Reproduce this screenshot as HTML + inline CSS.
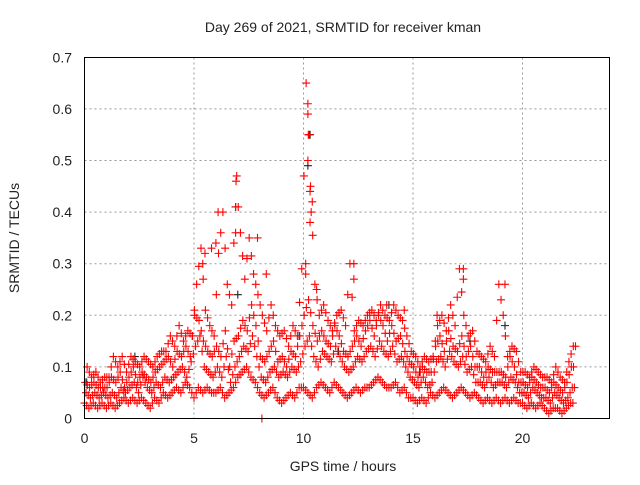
<!DOCTYPE html>
<html><head><meta charset="utf-8"><style>
body{margin:0;background:#fff}
svg text{font-family:"Liberation Sans",sans-serif;fill:#222}
</style></head><body>
<svg id="c" width="640" height="480" xmlns="http://www.w3.org/2000/svg">
<text x="343" y="32" font-size="14" text-anchor="middle">Day 269 of 2021, SRMTID for receiver kman</text>
<text x="343" y="471" font-size="14" text-anchor="middle">GPS time / hours</text>
<text transform="translate(19,238) rotate(-90)" font-size="14" text-anchor="middle">SRMTID / TECUs</text>
<g id="grid"></g><g id="pts"></g>
<rect x="84.5" y="57.5" width="525" height="361" fill="none" stroke="#000" stroke-width="1"/>
<g id="ticks"></g>
</svg>
<script>
const xTicks=[0,5,10,15,20];
const yTicks=[0,0.1,0.2,0.3,0.4,0.5,0.6,0.7];
const yTickLabels=["0","0.1","0.2","0.3","0.4","0.5","0.6","0.7"];
const step=0.2;
const lowVals=[.03,.02,.03,.02,.03,.02,.03,.02,.03,.04,.03,.04,.03,.04,.03,.02,.04,.03,.05,.04,.05,.06,.05,.07,.06,.04,.06,.05,.06,.05,.05,.06,.04,.05,.06,.08,.09,.10,.08,.07,.05,.04,.05,.06,.04,.03,.04,.05,.04,.06,.06,.05,.04,.06,.07,.06,.05,.07,.06,.05,.04,.05,.06,.05,.06,.06,.07,.08,.07,.06,.06,.07,.05,.06,.04,.04,.03,.04,.03,.05,.04,.05,.06,.05,.04,.05,.06,.05,.04,.05,.04,.03,.04,.03,.04,.03,.04,.03,.04,.03,.03,.02,.03,.02,.03,.02,.01,.02,.02,.01,.02,.03];
const mid1Vals=[.05,.04,.05,.04,.05,.04,.05,.04,.06,.05,.06,.07,.05,.08,.06,.05,.07,.06,.08,.07,.08,.09,.10,.08,.11,.14,.16,.10,.09,.08,.10,.08,.12,.07,.10,.12,.14,.13,.16,.12,.08,.07,.09,.10,.08,.09,.08,.10,.09,.11,.14,.16,.12,.10,.13,.12,.11,.14,.12,.10,.09,.10,.12,.11,.13,.14,.12,.15,.13,.12,.14,.11,.12,.10,.08,.07,.06,.08,.06,.07,.11,.12,.10,.13,.11,.10,.12,.09,.10,.07,.07,.06,.08,.06,.07,.07,.06,.08,.07,.05,.05,.04,.06,.05,.04,.04,.03,.05,.04,.03,.04,.06];
const mid2Vals=[.07,.06,.07,.06,.06,.06,.08,.07,.09,.06,.08,.10,.07,.09,.08,.07,.09,.10,.11,.12,.10,.13,.12,.14,.12,.20,.19,.15,.13,.12,.14,.12,.17,.10,.15,.16,.19,.17,.22,.18,.12,.11,.13,.15,.11,.12,.10,.13,.12,.16,.20,.23,.18,.15,.17,.15,.14,.18,.16,.13,.12,.14,.16,.14,.17,.19,.16,.20,.18,.15,.18,.15,.16,.13,.11,.10,.08,.10,.09,.09,.14,.16,.13,.17,.14,.13,.16,.12,.14,.10,.10,.08,.10,.09,.09,.09,.08,.12,.10,.07,.07,.06,.08,.07,.06,.06,.05,.07,.06,.05,.07,.10];
const highVals=[.10,.08,.09,.07,.08,.08,.12,.10,.12,.09,.12,.11,.10,.12,.11,.10,.12,.13,.13,.16,.14,.18,.15,.17,.16,.26,.33,.21,.18,.16,.32,.40,.26,.22,.46,.36,.27,.35,.28,.24,.20,.17,.22,.18,.16,.17,.14,.18,.16,.29,.65,.45,.26,.20,.22,.19,.17,.20,.21,.18,.30,.17,.19,.18,.20,.21,.19,.22,.20,.19,.22,.20,.19,.16,.13,.12,.10,.12,.11,.12,.18,.20,.17,.22,.18,.29,.20,.16,.17,.13,.12,.11,.14,.12,.26,.20,.12,.14,.13,.09,.09,.08,.10,.09,.08,.08,.07,.10,.08,.07,.11,.14];
const extraT=[10.2,10.2,10.25,10.2,10.3,10.35,10.3,6.1,5.8,6.95,6.9,6.9,12.3,12.3,17.3,17.3,19.2,10.1,10.1,8.1,5.4,5.5,6.0,7.9,8.3,10.4,10.6,13.8,14.6,16.1];
const extraV=[.61,.59,.55,.50,.44,.40,.38,.40,.33,.47,.41,.36,.30,.27,.29,.27,.26,.30,.28,.0,.30,.32,.34,.35,.28,.42,.25,.22,.21,.20];
const blackT=[10.2,10.3,6.9,7.0,9.8,13.9,19.2,17.6,2.3,0.1,11.6,15.3];
const blackV=[.49,.55,.41,.24,.16,.22,.18,.15,.12,.07,.13,.09];

const X=t=>84.5+t*21.9, Y=v=>418.5-v*516;
const NS="http://www.w3.org/2000/svg";
const grid=document.getElementById('grid'),pts=document.getElementById('pts'),tk=document.getElementById('ticks');
function mk(tag,a,parent){const e=document.createElementNS(NS,tag);for(const k in a)e.setAttribute(k,a[k]);parent.appendChild(e);return e;}
xTicks.forEach(t=>{
  if(t>0){const g=mk('line',{x1:X(t),x2:X(t),y1:57.5,y2:418.5,stroke:'#999','stroke-dasharray':'2,3'},grid);
  
  }
  const l=mk('text',{x:X(t),y:443,'font-size':14,'text-anchor':'middle'},tk);l.textContent=t;
  
  
});
yTicks.forEach((v,i)=>{
  if(v>0&&v<0.7){const g=mk('line',{x1:84.5,x2:609.5,y1:Y(v),y2:Y(v),stroke:'#999','stroke-dasharray':'2,3'},grid);
  
  }
  const l=mk('text',{x:72,y:Y(v)+5,'font-size':14,'text-anchor':'end'},tk);l.textContent=yTickLabels[i];
  
  
});
function plus(t,v,col){
  const x=X(t),y=Y(v);
  const p=mk('path',{d:`M${x-4},${y}H${x+4}M${x},${y-4}V${y+4}`,stroke:col,'stroke-width':1.1,fill:'none'},pts);
  
  
}
const series=[[lowVals,0],[mid1Vals,0.07],[mid2Vals,0.03],[highVals,0.12]];
blackT.forEach((t,i)=>plus(t,blackV[i],'#222'));
series.forEach(([arr,off])=>arr.forEach((v,i)=>{
  const n=arr[Math.min(i+1,arr.length-1)];
  plus(i*step+off,v,'#f00');
  plus(i*step+off+0.1,(v+n)/2,'#f00');
}));
extraT.forEach((t,i)=>plus(t,extraV[i],'#f00'));
</script>
</body></html>
